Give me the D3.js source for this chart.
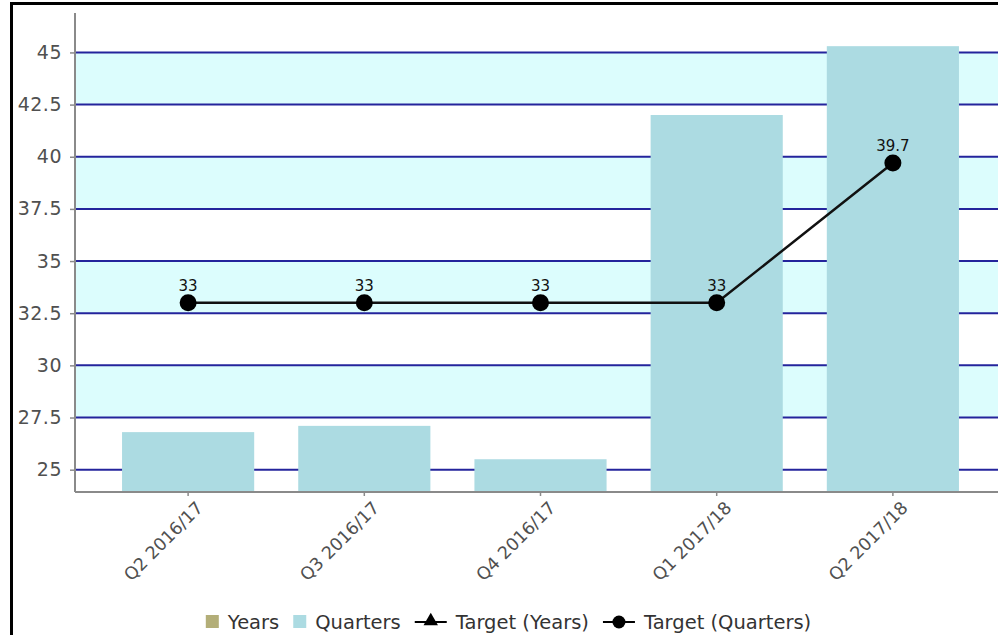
<!DOCTYPE html>
<html>
<head>
<meta charset="utf-8">
<script src="https://cdn.jsdelivr.net/npm/d3@7"></script>
<style>
  html, body { margin: 0; padding: 0; background: #fff; }
  svg { display: block; font-family: "DejaVu Sans", Verdana, sans-serif; }
</style>
</head>
<body>
<svg id="chart" width="998" height="635"></svg>
<script>
// Quarterly figures against their target
const categories = ["Q2 2016/17", "Q3 2016/17", "Q4 2016/17", "Q1 2017/18", "Q2 2017/18"];
const quarterValues = [26.8, 27.1, 25.5, 42.0, 45.3];
const targetQuarters = [33, 33, 33, 33, 39.7];
const yTicks = [25, 27.5, 30, 32.5, 35, 37.5, 40, 42.5, 45];
const legendItems = ["Years", "Quarters", "Target (Years)", "Target (Quarters)"];

const svg = d3.select("#chart");
const W = 998, H = 635;

const plot = { left: 75, right: 1006, top: 13, bottom: 492 };

const y = d3.scaleLinear().domain([23.93, 46.89]).range([plot.bottom, plot.top]);
const x = d3.scaleBand().domain(categories)
  .range([plot.left, plot.right])
  .paddingInner(0.25).paddingOuter(0.267);

// Alternating background bands
const bands = [];
for (let i = 0; i < yTicks.length - 1; i++) {
  if (i % 2 === 1) bands.push([yTicks[i], yTicks[i + 1]]);
}
svg.append("g").selectAll("rect").data(bands).join("rect")
  .attr("x", plot.left).attr("width", plot.right - plot.left)
  .attr("y", d => y(d[1])).attr("height", d => y(d[0]) - y(d[1]))
  .attr("fill", "#dcfdfd");

// Gridlines
svg.append("g").selectAll("line").data(yTicks).join("line")
  .attr("x1", plot.left).attr("x2", plot.right)
  .attr("y1", d => y(d)).attr("y2", d => y(d))
  .attr("stroke", "#24249c").attr("stroke-width", 2);

// Bars
svg.append("g").selectAll("rect").data(quarterValues).join("rect")
  .attr("x", (d, i) => x(categories[i]))
  .attr("width", x.bandwidth())
  .attr("y", d => y(d))
  .attr("height", d => plot.bottom - y(d))
  .attr("fill", "#acdbe2");

// Axes
const yAxis = svg.append("g").attr("transform", `translate(${plot.left},0)`)
  .call(d3.axisLeft(y).tickValues(yTicks).tickSize(5).tickPadding(8)
    .tickFormat(d => String(d)));
yAxis.select(".domain").remove();
yAxis.selectAll(".tick line").attr("stroke", "#8a8a8a").attr("stroke-width", 1.5);
yAxis.selectAll(".tick text").attr("fill", "#505050").style("font-size", "19px")
  .attr("font-family", "DejaVu Sans").style("letter-spacing", "0.5px");
svg.append("line").attr("x1", plot.left).attr("x2", plot.left)
  .attr("y1", plot.top).attr("y2", plot.bottom)
  .attr("stroke", "#8a8a8a").attr("stroke-width", 2);

const xAxis = svg.append("g").attr("transform", `translate(0,${plot.bottom})`)
  .call(d3.axisBottom(x).tickSize(4).tickPadding(0));
xAxis.select(".domain").remove();
xAxis.selectAll(".tick line").attr("stroke", "#8a8a8a").attr("stroke-width", 1.5);
xAxis.selectAll(".tick text")
  .attr("fill", "#505050").style("font-size", "17.5px").attr("font-family", "DejaVu Sans")
  .attr("text-anchor", "end").attr("dy", 0).attr("y", 0)
  .attr("transform", "translate(16,17) rotate(-45)");
svg.append("line").attr("x1", plot.left).attr("x2", plot.right)
  .attr("y1", plot.bottom).attr("y2", plot.bottom)
  .attr("stroke", "#8a8a8a").attr("stroke-width", 2);

// Target line with markers and labels
const cx = i => x(categories[i]) + x.bandwidth() / 2;
svg.append("path").datum(targetQuarters)
  .attr("d", d3.line().x((d, i) => cx(i)).y(d => y(d)))
  .attr("fill", "none").attr("stroke", "#111").attr("stroke-width", 2.5);
svg.append("g").selectAll("circle").data(targetQuarters).join("circle")
  .attr("cx", (d, i) => cx(i)).attr("cy", d => y(d)).attr("r", 8.5)
  .attr("fill", "#000");
svg.append("g").selectAll("text").data(targetQuarters).join("text")
  .attr("x", (d, i) => cx(i)).attr("y", d => y(d) - 12)
  .attr("text-anchor", "middle").attr("fill", "#111")
  .style("font-size", "15px").text(d => String(d));

// Legend
const legend = svg.append("g");
const legY = 622;
let lx = 0;
legendItems.forEach((name, i) => {
  const g = legend.append("g").attr("transform", `translate(${lx},0)`);
  let mw;
  if (i < 2) {
    g.append("rect").attr("x", 0).attr("y", legY - 7).attr("width", 13).attr("height", 13)
      .attr("fill", i === 0 ? "#b3ae78" : "#acdbe2");
    mw = 13;
  } else {
    g.append("line").attr("x1", 0).attr("x2", 32).attr("y1", legY).attr("y2", legY)
      .attr("stroke", "#000").attr("stroke-width", 2);
    if (i === 2) {
      g.append("path").attr("d", d3.symbol(d3.symbolTriangle, 90)())
        .attr("transform", `translate(16,${legY - 1})`).attr("fill", "#000");
    } else {
      g.append("circle").attr("cx", 16).attr("cy", legY).attr("r", 6.5).attr("fill", "#000");
    }
    mw = 32;
  }
  const t = g.append("text").attr("x", mw + 9).attr("y", legY + 7)
    .attr("fill", "#333").style("font-size", "19.5px").text(name);
  lx += mw + 9 + t.node().getComputedTextLength() + 14;
});
const legW = lx - 14;
legend.attr("transform", `translate(${508.5 - legW / 2},0)`);

// Frame
svg.append("path").attr("d", `M11.5,${H + 5} V3.5 H${W + 5}`)
  .attr("fill", "none").attr("stroke", "#000").attr("stroke-width", 3);
</script>
</body>
</html>
